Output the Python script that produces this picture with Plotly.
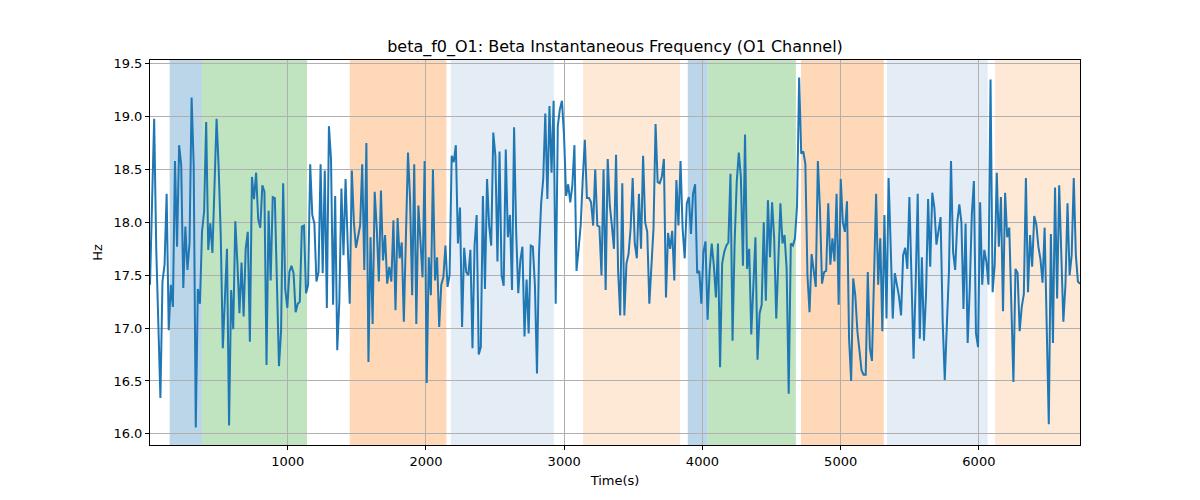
import numpy as np
import plotly.graph_objects as go

TITLE = "beta_f0_O1: Beta Instantaneous Frequency (O1 Channel)"
T0 = 4.0
STEP = 15.05

hz = [
    17.41, 18.2, 18.98, 17.75, 17.05, 16.34, 17.44, 17.6, 18.27, 16.98,
    17.41, 17.2, 18.58, 17.77, 18.73, 18.54, 17.38, 17.96, 17.55, 17.8,
    19.18, 18.54, 16.06, 17.37, 17.23, 17.91, 18.1, 18.95, 17.74, 17.99,
    17.71, 18.35, 18.98, 18.52, 17.88, 16.81, 17.31, 17.75, 16.08, 17.36,
    16.99, 18.01, 17.62, 17.14, 17.62, 17.11, 17.75, 17.91, 16.87, 18.43,
    18.22, 18.47, 18.03, 17.95, 18.35, 18.29, 16.65, 18.11, 17.45, 18.24,
    18.23, 17.37, 16.64, 16.97, 18.37, 17.37, 17.19, 17.53, 17.59, 17.52,
    17.15, 17.23, 17.25, 17.96, 17.97, 17.33, 17.41, 18.55, 18.07, 17.99,
    17.44, 17.53, 18.55, 17.52, 18.49, 17.19, 18.91, 18.6, 17.22, 18.25,
    16.79, 17.25, 18.32, 17.69, 18.41, 17.81, 17.23, 18.49, 18.0, 17.76,
    17.88, 17.97, 18.55, 17.55, 18.75, 16.68, 17.86, 17.04, 18.29, 17.94,
    17.44, 18.3, 17.64, 17.88, 17.42, 17.58, 17.44, 18.02, 17.17, 18.04,
    17.66, 17.81, 17.06, 17.9, 18.66, 18.22, 17.31, 18.55, 17.04, 18.16,
    17.75, 17.48, 18.58, 16.48, 17.67, 17.31, 18.5, 17.45, 17.67, 17.01,
    17.41, 17.48, 17.78, 17.39, 17.5, 18.63, 18.57, 18.73, 17.8, 18.14,
    17.01, 17.76, 17.53, 17.5, 17.74, 16.81, 17.78, 18.07, 16.75, 16.82,
    18.25, 17.37, 18.41, 17.97, 17.78, 18.85, 18.63, 17.63, 18.67, 17.5,
    17.4, 18.69, 17.86, 18.07, 17.36, 18.9, 17.91, 17.33, 17.64, 17.77,
    16.92, 17.46, 16.95, 17.78, 17.77, 17.41, 16.57, 17.72, 18.18, 18.41,
    19.03, 18.22, 19.1, 18.47, 19.15, 17.23, 18.91, 19.07, 19.15, 18.82,
    18.25, 18.36, 18.19, 18.35, 18.73, 17.54, 17.75, 17.97, 18.41, 18.78,
    18.23, 18.23, 18.19, 17.97, 18.5, 17.97, 17.96, 17.5, 18.5, 17.36,
    18.6, 18.16, 17.97, 17.75, 18.64, 17.54, 17.12, 18.37, 17.12, 17.61,
    17.7, 17.94, 18.42, 17.8, 17.66, 18.27, 17.75, 18.63, 18.0, 17.91,
    17.23, 17.63, 17.94, 18.93, 18.38, 18.37, 18.43, 18.6, 17.29, 17.9,
    17.75, 17.92, 17.45, 18.4, 17.97, 18.58, 17.94, 17.66, 18.18, 18.24,
    17.89, 18.27, 18.36, 17.52, 17.54, 17.23, 17.72, 17.82, 17.08, 17.55,
    17.8, 17.59, 17.29, 17.8, 16.63, 17.61, 17.72, 17.78, 17.81, 18.46,
    16.88, 17.81, 18.38, 18.66, 18.43, 17.59, 18.83, 17.56, 17.75, 16.94,
    17.37, 17.86, 16.7, 17.14, 17.22, 18.0, 17.26, 18.21, 17.67, 18.19,
    17.85, 17.09, 17.63, 18.18, 17.8, 17.88, 17.56, 16.38, 17.8, 17.78,
    17.85, 18.16, 19.37, 18.65, 18.67, 18.55, 17.5, 17.15, 17.7, 17.56,
    17.39, 18.58, 18.13, 17.42, 17.53, 17.54, 18.18, 17.6, 17.85, 17.63,
    18.27, 17.22, 18.41, 18.0, 17.91, 18.2, 16.9, 16.5, 17.47, 17.31,
    16.97, 16.79, 16.6, 16.56, 16.56, 17.53, 16.81, 16.69, 17.53, 18.27,
    17.41, 17.85, 16.97, 18.07, 17.09, 18.42, 17.78, 17.09, 17.52, 17.42,
    17.3, 17.12, 17.69, 17.76, 17.56, 18.24, 17.59, 16.71, 17.41, 18.27,
    16.9, 17.67, 16.88, 17.32, 18.22, 17.58, 18.28, 18.14, 17.79, 17.91,
    18.05, 17.06, 16.51, 17.03, 17.53, 18.58, 17.72, 17.55, 18.0, 18.17,
    18.0, 17.18, 17.99, 16.86, 17.37, 18.07, 18.39, 16.95, 16.82, 18.19,
    17.41, 17.74, 17.63, 17.41, 19.35, 17.34, 17.6, 18.47, 17.77, 18.24,
    17.16, 18.28, 17.86, 17.95, 17.26, 16.49, 17.56, 17.52, 16.97, 17.2,
    17.32, 18.42, 17.34, 17.88, 17.58, 18.06, 17.98, 17.77, 17.65, 17.43,
    17.95, 16.84, 16.09, 17.89, 16.86, 18.33, 17.28, 18.35, 17.69, 17.06,
    17.41, 18.18, 17.5, 17.69, 18.42, 17.69, 17.44, 17.42,
]

span_start = [146, 380, 1449, 2180, 3137, 3894, 4039, 4713, 5335, 6116]
span_end = [380, 1140, 2148, 2925, 3837, 4039, 4676, 5312, 6063, 6760]
span_color = ["#bcd6e9", "#c0e3c0", "#ffd9b7", "#e4ecf6", "#fee8d6",
              "#bcd6e9", "#c0e3c0", "#ffd9b7", "#e4ecf6", "#fee8d6"]

x_ticks = [1000, 2000, 3000, 4000, 5000, 6000]
y_ticks = [16.0, 16.5, 17.0, 17.5, 18.0, 18.5, 19.0, 19.5]

t = T0 + STEP * np.arange(len(hz))
vals = np.array(hz)
pad = 0.05 * (vals.max() - vals.min())

fig = go.Figure()
for s, e, c in zip(span_start, span_end, span_color):
    fig.add_shape(type="rect", xref="x", yref="paper", x0=s, x1=e, y0=0, y1=1,
                  fillcolor=c, line=dict(width=0), layer="below")

fig.add_trace(go.Scatter(x=t, y=vals, mode="lines",
                         line=dict(color="#1f77b4", width=2), showlegend=False))

axis_common = dict(showline=True, linecolor="black", linewidth=1, mirror=True,
                   ticks="outside", ticklen=4, tickcolor="black",
                   showgrid=True, gridcolor="#b0b0b0", gridwidth=1,
                   zeroline=False, tickfont=dict(size=13, color="black"))

fig.update_layout(
    width=1200, height=500,
    margin=dict(l=142, r=128, t=52, b=63),
    paper_bgcolor="white", plot_bgcolor="white",
    font=dict(family="DejaVu Sans", color="black"),
    title=dict(text=TITLE, x=0.5, xref="paper", xanchor="center",
               y=1 - 38 / 500, yref="container", yanchor="middle",
               font=dict(size=16, color="black")),
    xaxis=dict(range=[t[0], t[-1]], tickvals=x_ticks,
               ticktext=[str(v) for v in x_ticks],
               title=dict(text="Time(s)", font=dict(size=13), standoff=8),
               **axis_common),
    yaxis=dict(range=[vals.min() - pad, vals.max() + pad], tickvals=y_ticks,
               ticktext=[f"{v:.1f}" for v in y_ticks],
               title=dict(text="Hz", font=dict(size=13), standoff=7),
               **axis_common),
)

fig.write_html("out.html")
